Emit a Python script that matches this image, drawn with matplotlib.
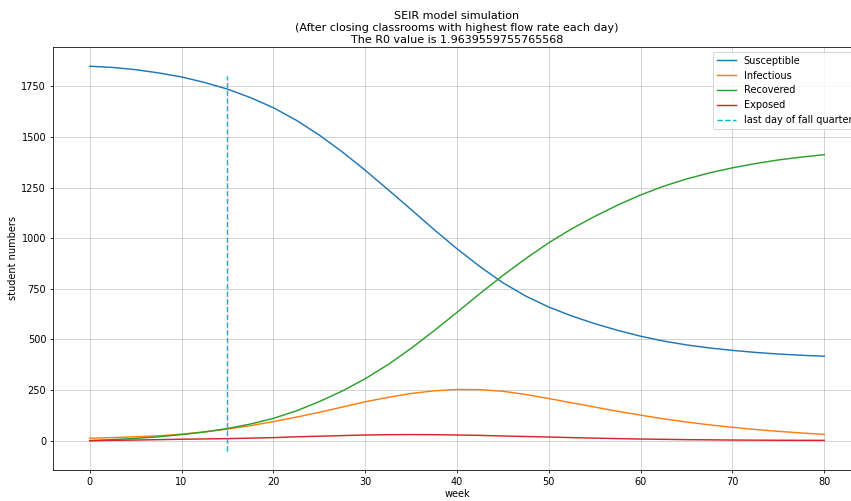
import matplotlib
matplotlib.use("Agg")
import matplotlib.pyplot as plt

# Weekly SEIR trajectories (students)
weeks = [0, 2.5, 5, 7.5, 10, 12.5, 15, 17.5, 20, 22.5, 25, 27.5, 30, 32.5, 35,
         37.5, 40, 42.5, 45, 47.5, 50, 52.5, 55, 57.5, 60, 62.5, 65, 67.5, 70,
         72.5, 75, 77.5, 80]
susceptible = [1850, 1844, 1833, 1817, 1797, 1770, 1737, 1695, 1645, 1583, 1510,
               1427, 1336, 1240, 1142, 1043, 948, 860, 780, 714, 660, 616, 578,
               545, 516, 492, 473, 458, 446, 436, 428, 422, 417]
infectious = [12, 15, 19, 24, 32, 43, 57, 74, 94, 116, 140, 166, 192, 214, 233,
              246, 253, 252, 244, 228, 208, 187, 166, 145, 126, 108, 92, 78, 66,
              55, 46, 38, 31]
recovered = [0, 5, 11, 19, 30, 43, 60, 82, 110, 147, 193, 245, 306, 376, 456,
             543, 634, 727, 816, 900, 978, 1047, 1108, 1164, 1214, 1257, 1293,
             1323, 1348, 1369, 1387, 1401, 1413]
exposed = [0, 1.5, 3, 5, 7, 8.5, 10, 12.5, 15, 19, 22, 25, 28, 29.5, 30, 29.5,
           28, 26, 23, 20.5, 18, 15, 12.5, 10, 8, 6.5, 5, 4, 3, 2.5, 2, 1.7, 1.5]

quarter_end_week = 15
quarter_line_range = (-50, 1800)
r0 = 1.9639559755765568

DPI = 70
fig = plt.figure(figsize=(851 / DPI, 501 / DPI), dpi=DPI)
ax = fig.add_axes([53 / 851, 31 / 501, 808 / 851, 423 / 501])

ax.plot(weeks, susceptible, label="Susceptible")
ax.plot(weeks, infectious, label="Infectious")
ax.plot(weeks, recovered, label="Recovered")
ax.plot(weeks, exposed, label="Exposed")
ax.vlines(quarter_end_week, *quarter_line_range, colors="c", linestyles="--",
          label="last day of fall quarter")

ax.set_title("SEIR model simulation\n"
             "(After closing classrooms with highest flow rate each day)\n"
             f"The R0 value is {r0}", fontsize=11.5, linespacing=1.28, pad=4)
ax.set_xlabel("week", labelpad=2)
ax.set_ylabel("student numbers")
ax.grid(True, alpha=0.7)
ax.legend(loc="upper right")

fig.savefig("out.png", dpi=DPI)
